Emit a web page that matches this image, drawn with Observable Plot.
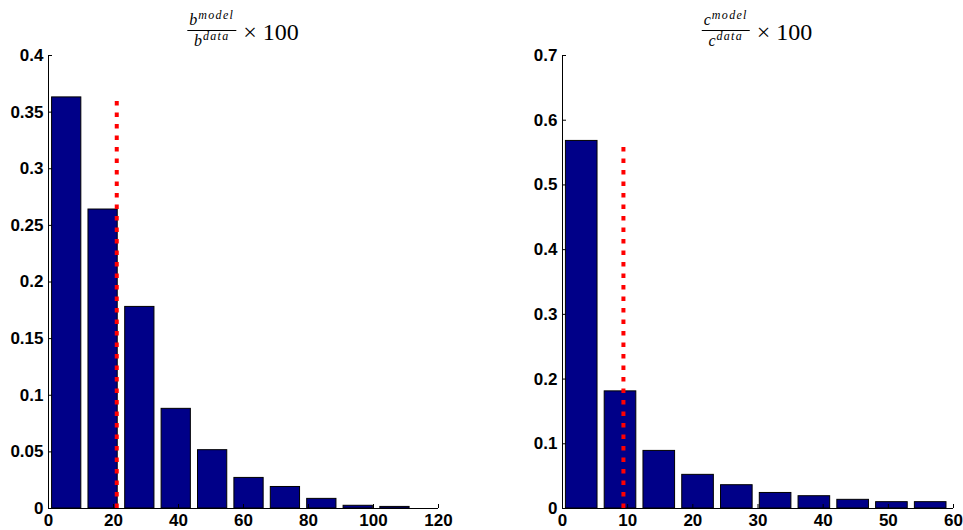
<!DOCTYPE html>
<html>
<head>
<meta charset="utf-8">
<script src="https://cdn.jsdelivr.net/npm/d3@7"></script>
<script src="https://cdn.jsdelivr.net/npm/@observablehq/plot@0.6"></script>
<style>
  html, body { margin: 0; padding: 0; background: #fff; }
  #wrap { position: relative; width: 963px; height: 530px; overflow: hidden; }
  .panel { position: absolute; top: 0; }
  .title { position: absolute; top: 10px; display: flex; align-items: center; transform: translateX(-50%);
           font-family: "Liberation Serif", "DejaVu Serif", serif; color: #000; white-space: nowrap; }
  .frac { display: inline-flex; flex-direction: column; align-items: center; line-height: 1; }
  .num { border-bottom: 1px solid #000; padding: 2px 2px 2px 2px; font-size: 16px; }
  .den { padding-top: 2px; font-size: 16px; }
  .frac i { font-style: italic; }
  .frac sup { font-size: 12px; font-style: italic; letter-spacing: 1.3px; vertical-align: 6px; line-height: 0; margin-left: 1px; }
  .times { font-size: 24px; margin-left: 7px; margin-top: 5px; }
</style>
</head>
<body>
<div id="wrap"></div>
<script>
// ---- data ----
const leftTitleVar = "b";
const rightTitleVar = "c";

const leftCenters = [5.6, 16.8, 28.1, 39.3, 50.5, 61.7, 72.9, 84.1, 95.3, 106.6];
const leftValues  = [0.363, 0.264, 0.178, 0.088, 0.0515, 0.027, 0.019, 0.0085, 0.0024, 0.0014];
const leftBarWidth = 9.0;
const leftMarkerX = 21.0;
const leftMarkerTop = 0.363;
const leftXTicks = [0, 20, 40, 60, 80, 100, 120];
const leftYTicks = [0, 0.05, 0.1, 0.15, 0.2, 0.25, 0.3, 0.35, 0.4];

const rightCenters = [2.95, 8.9, 14.85, 20.8, 26.75, 32.7, 38.65, 44.6, 50.55, 56.5];
const rightValues  = [0.568, 0.181, 0.089, 0.052, 0.036, 0.024, 0.019, 0.0134, 0.0098, 0.0098];
const rightBarWidth = 4.85;
const rightMarkerX = 9.35;
const rightMarkerTop = 0.568;
const rightXTicks = [0, 10, 20, 30, 40, 50, 60];
const rightYTicks = [0, 0.1, 0.2, 0.3, 0.4, 0.5, 0.6, 0.7];

function panel({centers, values, barWidth, markerX, markerTop, xTicks, yTicks, width, marginLeft, marginRight}) {
  const data = centers.map((c, i) => ({c, v: values[i]}));
  return Plot.plot({
    width, height: 530,
    marginTop: 55, marginBottom: 22, marginLeft, marginRight,
    x: {domain: [xTicks[0], xTicks[xTicks.length - 1]]},
    y: {domain: [yTicks[0], yTicks[yTicks.length - 1]]},
    style: {fontFamily: '"Liberation Sans", Arial, sans-serif', fontSize: "17px", fontWeight: "bold", color: "#000", background: "transparent", overflow: "visible"},
    marks: [
      Plot.rectY(data, {x1: d => d.c - barWidth / 2, x2: d => d.c + barWidth / 2, y1: 0, y2: "v",
        fill: "#000088", stroke: "#000", strokeWidth: 1}),
      Plot.ruleX([markerX], {y1: 0, y2: markerTop, stroke: "#ff0000", strokeWidth: 4, strokeDasharray: "4.5,7"}),
      Plot.ruleY([0], {stroke: "#000", strokeWidth: 1}),
      Plot.ruleX([0], {stroke: "#000", strokeWidth: 1}),
      Plot.axisX({ticks: xTicks, tickSize: -4, tickPadding: 9.5, label: null, tickFormat: d => String(d)}),
      Plot.axisY({ticks: yTicks, tickSize: -4, tickPadding: 9, label: null, tickFormat: d => String(d)})
    ]
  });
}

const wrap = document.getElementById("wrap");

function addPanel(left, opts) {
  const div = document.createElement("div");
  div.className = "panel";
  div.style.left = left + "px";
  div.appendChild(panel(opts));
  wrap.appendChild(div);
}

addPanel(0, {centers: leftCenters, values: leftValues, barWidth: leftBarWidth, markerX: leftMarkerX,
  markerTop: leftMarkerTop, xTicks: leftXTicks, yTicks: leftYTicks, width: 481, marginLeft: 48, marginRight: 43});
addPanel(481, {centers: rightCenters, values: rightValues, barWidth: rightBarWidth, markerX: rightMarkerX,
  markerTop: rightMarkerTop, xTicks: rightXTicks, yTicks: rightYTicks, width: 482, marginLeft: 81, marginRight: 10});

function addTitle(cx, v) {
  const t = document.createElement("div");
  t.className = "title";
  t.style.left = cx + "px";
  t.innerHTML = `<span class="frac"><span class="num"><i>${v}</i><sup>model</sup></span><span class="den"><i>${v}</i><sup>data</sup></span></span><span class="times">× 100</span>`;
  wrap.appendChild(t);
}
addTitle(243, leftTitleVar);
addTitle(757, rightTitleVar);
</script>
</body>
</html>
